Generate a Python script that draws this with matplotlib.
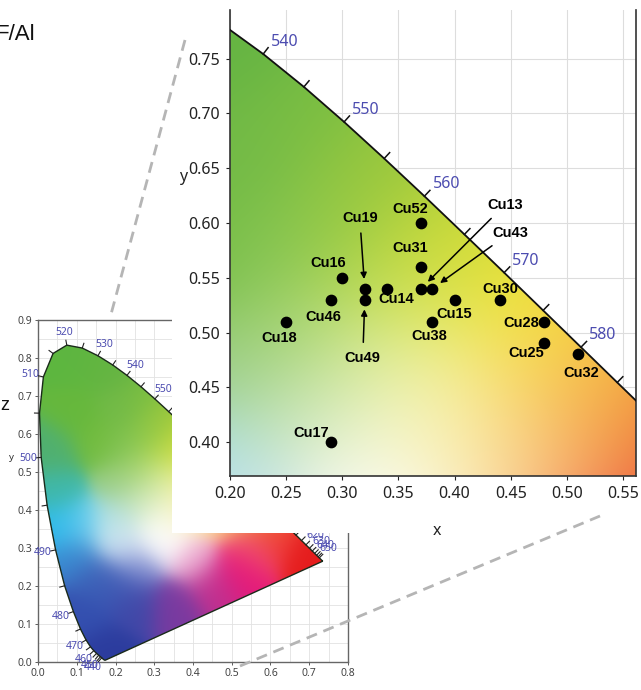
import numpy as np
import matplotlib
matplotlib.use("Agg")
import matplotlib.pyplot as plt
from matplotlib.patches import Polygon, Rectangle
from matplotlib.lines import Line2D
from matplotlib.colors import to_rgb

# ---------------- data ----------------
sample_names = ["Cu52", "Cu31", "Cu19", "Cu16", "Cu46", "Cu18", "Cu14", "Cu49",
                "Cu15", "Cu38", "Cu30", "Cu28", "Cu25", "Cu32", "Cu13", "Cu43", "Cu17"]
sample_x = [0.37, 0.37, 0.32, 0.30, 0.29, 0.25, 0.34, 0.32,
            0.40, 0.38, 0.44, 0.48, 0.48, 0.51, 0.37, 0.38, 0.29]
sample_y = [0.60, 0.56, 0.54, 0.55, 0.53, 0.51, 0.54, 0.53,
            0.53, 0.51, 0.53, 0.51, 0.49, 0.48, 0.54, 0.54, 0.40]

# CIE 1931 2-degree spectral locus (5 nm steps)
locus_nm = list(range(380, 705, 5))
locus_x = [0.1741, 0.1740, 0.1738, 0.1736, 0.1733, 0.1730, 0.1726, 0.1721, 0.1714, 0.1703,
           0.1689, 0.1669, 0.1644, 0.1611, 0.1566, 0.1510, 0.1440, 0.1355, 0.1241, 0.1096,
           0.0913, 0.0687, 0.0454, 0.0235, 0.0082, 0.0039, 0.0139, 0.0389, 0.0743, 0.1142,
           0.1547, 0.1929, 0.2296, 0.2658, 0.3016, 0.3373, 0.3731, 0.4087, 0.4441, 0.4788,
           0.5125, 0.5448, 0.5752, 0.6029, 0.6270, 0.6482, 0.6658, 0.6801, 0.6915, 0.7006,
           0.7079, 0.7140, 0.7190, 0.7230, 0.7260, 0.7283, 0.7300, 0.7311, 0.7320, 0.7327,
           0.7334, 0.7340, 0.7344, 0.7346, 0.7347]
locus_y = [0.0050, 0.0050, 0.0049, 0.0049, 0.0048, 0.0048, 0.0048, 0.0048, 0.0051, 0.0058,
           0.0069, 0.0086, 0.0109, 0.0138, 0.0177, 0.0227, 0.0297, 0.0399, 0.0578, 0.0868,
           0.1327, 0.2007, 0.2950, 0.4127, 0.5384, 0.6548, 0.7502, 0.8120, 0.8338, 0.8262,
           0.8059, 0.7816, 0.7543, 0.7243, 0.6923, 0.6589, 0.6245, 0.5896, 0.5547, 0.5202,
           0.4866, 0.4544, 0.4242, 0.3965, 0.3725, 0.3514, 0.3340, 0.3197, 0.3083, 0.2993,
           0.2920, 0.2859, 0.2809, 0.2770, 0.2740, 0.2717, 0.2700, 0.2689, 0.2680, 0.2673,
           0.2666, 0.2660, 0.2656, 0.2654, 0.2653]

main_xticks = [0.20, 0.25, 0.30, 0.35, 0.40, 0.45, 0.50, 0.55]
main_yticks = [0.40, 0.45, 0.50, 0.55, 0.60, 0.65, 0.70, 0.75]
inset_xticks = [0.0, 0.1, 0.2, 0.3, 0.4, 0.5, 0.6, 0.7, 0.8]
inset_yticks = [0.0, 0.1, 0.2, 0.3, 0.4, 0.5, 0.6, 0.7, 0.8, 0.9]

main_wl_ticks = list(range(540, 590, 5))
main_wl_labels = [540, 550, 560, 570, 580]
inset_wl_ticks = list(range(440, 655, 5))
inset_wl_labels = [440, 450, 460, 470, 480, 490, 500, 510, 520, 530, 540, 550, 620, 630, 640, 650]

# ---------------- styling / layout ----------------
W, H = 641, 690
FONT = "Noto Sans"
LBL = "Liberation Sans"
WL_COLOR = "#4c4cb0"

# label offsets (pixels, display y-up) and whether an arrow is drawn
label_layout = {
    "Cu52": (-11, 14, False), "Cu31": (-11, 19, False), "Cu19": (-5, 71, True),
    "Cu16": (-14, 15, False), "Cu46": (-8, -17, False), "Cu18": (-7, -16, False),
    "Cu14": (9, -10, False), "Cu49": (-2, -58, True), "Cu15": (0, -14, False),
    "Cu38": (-3, -14, False), "Cu30": (1, 11, False), "Cu28": (-23, -1, False),
    "Cu25": (-18, -10, False), "Cu32": (3, -19, False), "Cu13": (84, 84, True),
    "Cu43": (78, 56, True), "Cu17": (-20, 9, False),
}

# anchor colours for the chromaticity fill (styling only)
anchors = [
    # zoomed region
    (0.21, 0.76, "#66b444"), (0.21, 0.66, "#72ba48"), (0.21, 0.56, "#80c254"),
    (0.21, 0.47, "#98cc86"), (0.21, 0.38, "#a8dad8"), (0.27, 0.70, "#7cbf42"),
    (0.28, 0.60, "#8ac64a"), (0.26, 0.51, "#a6d468"), (0.26, 0.43, "#c6e4b0"),
    (0.29, 0.39, "#e8f2d4"), (0.33, 0.64, "#9cc83c"), (0.33, 0.55, "#b8d84a"),
    (0.31, 0.47, "#d2e8a0"), (0.35, 0.38, "#fbf8dc"), (0.38, 0.58, "#c4d838"),
    (0.37, 0.50, "#e0ec78"), (0.36, 0.44, "#f2f4c0"), (0.41, 0.54, "#e0e03a"),
    (0.41, 0.46, "#f8f0a0"), (0.40, 0.40, "#faf2b6"), (0.45, 0.51, "#f3e430"),
    (0.45, 0.45, "#f9e070"), (0.45, 0.40, "#fbd8a0"), (0.49, 0.48, "#f6d040"),
    (0.50, 0.44, "#f6be58"), (0.50, 0.39, "#f8b47c"), (0.54, 0.44, "#f4a638"),
    (0.55, 0.39, "#ef8040"), (0.60, 0.38, "#ee6a34"),
    # rest of the diagram
    (0.08, 0.80, "#5db640"), (0.15, 0.78, "#62b640"), (0.10, 0.65, "#66b83c"),
    (0.15, 0.58, "#72bc3c"), (0.04, 0.55, "#50b070"), (0.05, 0.45, "#40b8a8"),
    (0.06, 0.36, "#2cbcee"), (0.12, 0.36, "#70d0f0"), (0.20, 0.34, "#d8f0f4"),
    (0.22, 0.30, "#c8d8f2"), (0.10, 0.28, "#3a88d0"), (0.15, 0.22, "#3d62b8"),
    (0.20, 0.20, "#3c58b4"), (0.12, 0.12, "#3450b0"), (0.17, 0.03, "#2c3c9e"),
    (0.25, 0.15, "#4048a8"), (0.26, 0.25, "#7a86cc"), (0.35, 0.15, "#7a3aa0"),
    (0.45, 0.20, "#c03090"), (0.40, 0.27, "#eeb0d4"), (0.52, 0.24, "#e6187a"),
    (0.55, 0.30, "#f05070"), (0.62, 0.33, "#ef3838"), (0.70, 0.29, "#e51c1c"),
    (0.30, 0.33, "#ffffff"), (0.33, 0.32, "#ffffff"),
]


def colour_field(x0, x1, y0, y1, nx, ny, sig=0.042):
    xs = np.linspace(x0, x1, nx)
    ys = np.linspace(y0, y1, ny)
    X, Y = np.meshgrid(xs, ys)
    axy = np.array([[a[0], a[1]] for a in anchors])
    cols = np.array([to_rgb(a[2]) for a in anchors])
    d2 = (X[..., None] - axy[:, 0]) ** 2 + (Y[..., None] - axy[:, 1]) ** 2
    d2 = d2 - d2.min(axis=-1, keepdims=True)
    w = np.exp(-d2 / (2 * sig ** 2))
    w /= w.sum(axis=-1, keepdims=True)
    return np.clip(w @ cols, 0, 1)


def locus_normals(ax, xs, ys):
    pts = ax.transData.transform(np.column_stack([xs, ys]))
    t = np.gradient(pts, axis=0)
    t /= np.linalg.norm(t, axis=1, keepdims=True) + 1e-12
    n = np.column_stack([-t[:, 1], t[:, 0]])
    return pts, n


fig = plt.figure(figsize=(W / 100, H / 100), dpi=100)

# ---------------- inset (full diagram) ----------------
ax_in = fig.add_axes([38 / W, 1 - 662 / H, 310 / W, 342 / H], zorder=0)
ax_in.set_xlim(0, 0.8)
ax_in.set_ylim(0, 0.9)
ax_in.set_xticks(inset_xticks)
ax_in.set_yticks(inset_yticks)
ax_in.set_xticks(np.arange(0, 0.81, 0.05), minor=True)
ax_in.set_yticks(np.arange(0, 0.91, 0.05), minor=True)
ax_in.grid(True, which="both", color="#e2e2e2", lw=0.6)
ax_in.set_axisbelow(True)
ax_in.tick_params(labelsize=7.5, colors="#444444", length=2, width=0.6, pad=2)
ax_in.tick_params(which="minor", length=0)
for lab in ax_in.get_xticklabels() + ax_in.get_yticklabels():
    lab.set_fontfamily(FONT)
for s in ax_in.spines.values():
    s.set_color("#666666")
    s.set_linewidth(1.0)
ax_in.set_xlabel("x", fontsize=7, family=FONT, color="#333333")
ax_in.set_ylabel("y", fontsize=7, family=FONT, color="#333333", rotation=0)
ax_in.xaxis.set_label_coords(0.48, -0.075)
ax_in.yaxis.set_label_coords(-0.085, 0.585)

poly_in = Polygon(np.column_stack([locus_x, locus_y]), closed=True, facecolor="none",
                  edgecolor="#1a2a1a", lw=1.0, zorder=3)
ax_in.add_patch(poly_in)
img_in = colour_field(0, 0.8, 0, 0.9, 260, 290)
im_in = ax_in.imshow(img_in, origin="lower", extent=(0, 0.8, 0, 0.9), aspect="auto",
                     interpolation="bilinear", zorder=1)
im_in.set_clip_path(poly_in)

pts, nrm = locus_normals(ax_in, locus_x, locus_y)
inv = ax_in.transData.inverted()
for nm in inset_wl_ticks:
    i = locus_nm.index(nm)
    p0 = pts[i]
    p1 = p0 + nrm[i] * 5
    d = inv.transform(np.array([p0, p1]))
    ax_in.plot(d[:, 0], d[:, 1], color="#222222", lw=0.8, zorder=4, clip_on=False)
for nm in inset_wl_labels:
    i = locus_nm.index(nm)
    off = nrm[i] * 13
    ax_in.annotate(str(nm), xy=(locus_x[i], locus_y[i]), xytext=(off[0], off[1]),
                   textcoords="offset pixels", ha="center", va="center",
                   fontsize=7.5, family=FONT, color=WL_COLOR, annotation_clip=False, zorder=5)

# ---------------- white cover panel ----------------
fig.add_artist(Rectangle((172 / W, 1 - 533 / H), 1 - 172 / W, 533 / H,
                         transform=fig.transFigure, facecolor="white",
                         edgecolor="none", zorder=1))

# ---------------- main (zoomed) axes ----------------
ax = fig.add_axes([230 / W, 1 - 476 / H, 406 / W, 466 / H], zorder=2)
ax.set_xlim(0.20, 0.5615)
ax.set_ylim(0.369, 0.7945)
ax.set_xticks(main_xticks)
ax.set_yticks(main_yticks)
ax.set_xticklabels([f"{v:.2f}" for v in main_xticks])
ax.set_yticklabels([f"{v:.2f}" for v in main_yticks])
ax.grid(True, color="#dddddd", lw=0.8)
ax.set_axisbelow(True)
ax.tick_params(labelsize=11.5, colors="#222222", length=3, width=0.8, pad=4)
for lab in ax.get_xticklabels() + ax.get_yticklabels():
    lab.set_fontfamily(FONT)
ax.spines["top"].set_visible(False)
for k in ("left", "bottom", "right"):
    ax.spines[k].set_color("#333333")
    ax.spines[k].set_linewidth(1.2)
ax.set_xlabel("x", fontsize=11.5, family=FONT, color="#222222")
ax.set_ylabel("y", fontsize=11.5, family=FONT, color="#222222", rotation=0)
ax.xaxis.set_label_coords(0.51, -0.10)
ax.yaxis.set_label_coords(-0.116, 0.624)

poly = Polygon(np.column_stack([locus_x, locus_y]), closed=True, facecolor="none",
               edgecolor="#111111", lw=1.3, zorder=3)
ax.add_patch(poly)
img = colour_field(0.20, 0.5615, 0.369, 0.7945, 300, 350)
im = ax.imshow(img, origin="lower", extent=(0.20, 0.5615, 0.369, 0.7945), aspect="auto",
               interpolation="bilinear", zorder=1)
im.set_clip_path(poly)

pts, nrm = locus_normals(ax, locus_x, locus_y)
inv = ax.transData.inverted()
for nm in main_wl_ticks:
    i = locus_nm.index(nm)
    p0 = pts[i]
    p1 = p0 + nrm[i] * 8
    d = inv.transform(np.array([p0, p1]))
    ax.plot(d[:, 0], d[:, 1], color="#111111", lw=1.1, zorder=4)
for nm in main_wl_labels:
    i = locus_nm.index(nm)
    ax.annotate(str(nm), xy=(locus_x[i], locus_y[i]), xytext=(22, 12),
                textcoords="offset pixels", ha="center", va="center",
                fontsize=11.5, family=FONT, color=WL_COLOR, zorder=5)

ax.scatter(sample_x, sample_y, s=55, color="black", zorder=6)
for name, sx, sy in zip(sample_names, sample_x, sample_y):
    dx, dy, arrow = label_layout[name]
    kw = {}
    if arrow:
        kw["arrowprops"] = dict(arrowstyle="-|>", color="black", lw=1.1,
                                mutation_scale=9, shrinkA=4, shrinkB=7)
    ax.annotate(name, xy=(sx, sy), xytext=(dx, dy), textcoords="offset pixels",
                ha="center", va="center", fontsize=10.5, fontweight="bold",
                family=LBL, color="black", zorder=7, **kw)

# ---------------- decorations ----------------
for (xa, ya), (xb, yb) in [((185, 40), (110, 318)), ((240, 666), (600, 516))]:
    fig.add_artist(Line2D([xa / W, xb / W], [1 - ya / H, 1 - yb / H],
                          transform=fig.transFigure, color="#b5b5b5", lw=2.0,
                          dashes=(4, 2.5), zorder=3))

fig.text(-5 / W, 1 - 35 / H, "F/Al", fontsize=16, family=LBL, color="#111111",
         ha="left", va="center")
fig.text(0 / W, 1 - 405 / H, "z", fontsize=13, family=LBL, color="#111111",
         ha="left", va="center")

fig.savefig("out.png", dpi=100)
